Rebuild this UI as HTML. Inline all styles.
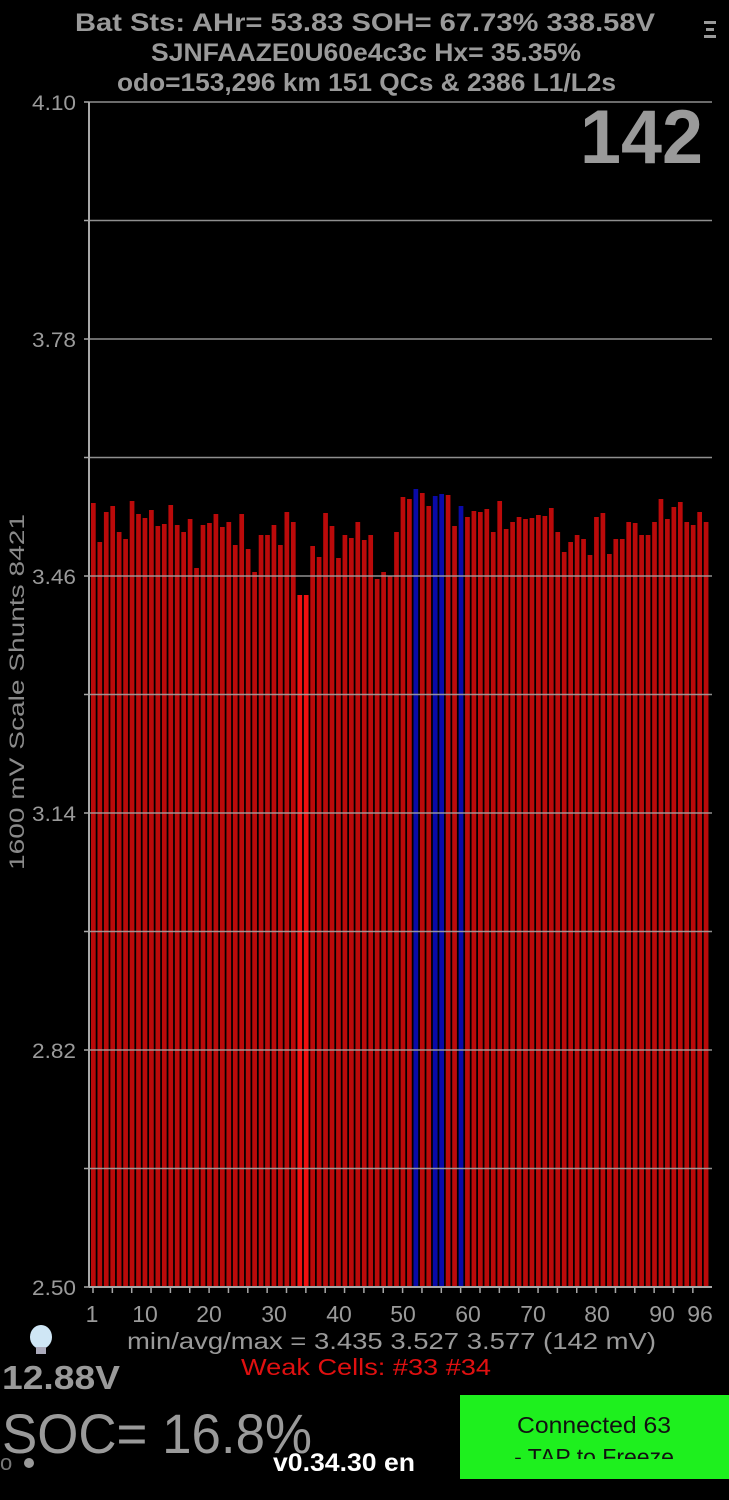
<!DOCTYPE html>
<html><head><meta charset="utf-8"><style>
html,body{margin:0;padding:0;background:#000;}
svg{display:block;}
text{font-family:"Liberation Sans",sans-serif;}
</style></head><body>
<svg id="s" width="729" height="1500" viewBox="0 0 729 1500" xmlns="http://www.w3.org/2000/svg">
<rect width="729" height="1500" fill="#000"/>
<g fill="#9a9a9a" font-weight="bold" text-anchor="start">
<text x="75" y="31" font-size="25" textLength="580" lengthAdjust="spacingAndGlyphs">Bat Sts:  AHr= 53.83  SOH= 67.73%   338.58V</text>
<text x="151" y="61" font-size="25" textLength="430" lengthAdjust="spacingAndGlyphs">SJNFAAZE0U60e4c3c   Hx= 35.35%</text>
<text x="117" y="91" font-size="25" textLength="499" lengthAdjust="spacingAndGlyphs">odo=153,296 km  151 QCs &amp; 2386 L1/L2s</text>
<text x="580" y="163" font-size="76" textLength="123" lengthAdjust="spacingAndGlyphs">142</text>
</g>
<g fill="#9a9a9a"><rect x="704" y="21" width="12" height="3"/><rect x="706" y="28" width="8" height="3"/><rect x="704" y="35" width="12" height="3"/></g>
<g id="bars"></g>
<g id="grid"></g>
<text transform="translate(24,692) rotate(-90)" text-anchor="middle" fill="#8a8a8a" font-size="21" textLength="356" lengthAdjust="spacingAndGlyphs">1600 mV Scale   Shunts 8421</text>
<g fill="#9a9a9a" font-size="23">
<text x="127" y="1349" textLength="529" lengthAdjust="spacingAndGlyphs">min/avg/max = 3.435 3.527 3.577  (142 mV)</text>
</g>
<text x="241" y="1375" fill="#e01010" font-size="23" textLength="250" lengthAdjust="spacingAndGlyphs">Weak Cells:  #33 #34</text>
<text x="2" y="1389" fill="#9a9a9a" font-size="33" font-weight="bold" textLength="118" lengthAdjust="spacingAndGlyphs">12.88V</text>
<text x="2" y="1453" fill="#9a9a9a" font-size="56" textLength="310" lengthAdjust="spacingAndGlyphs">SOC= 16.8%</text>
<text x="0" y="1470" fill="#777" font-size="22">o</text><circle cx="29" cy="1463" r="5" fill="#9a9a9a"/>
<text x="273" y="1471" fill="#fff" font-size="25" font-weight="bold" textLength="142" lengthAdjust="spacingAndGlyphs">v0.34.30 en</text>
<ellipse cx="41" cy="1337" rx="11" ry="12" fill="#cfe6f5"/><rect x="36" y="1347" width="10" height="7" fill="#aab"/>
<rect x="460" y="1395" width="269" height="84" fill="#1ef01e"/>
<text x="594" y="1433" text-anchor="middle" fill="#111" font-size="23" textLength="154" lengthAdjust="spacingAndGlyphs">Connected 63</text>
<svg x="460" y="1395" width="269" height="64" overflow="hidden"><text x="134" y="70" text-anchor="middle" fill="#111" font-size="23">- TAP to Freeze</text></svg>
</svg>
<script>
var t=[503,542,512,506,532,539,501,514,518,510,526,524,505,525,532,519,568,525,523,514,527,522,545,514,549,572,535,535,525,545,512,522,595,595,546,557,513,526,558,535,538,522,540,535,579,572,576,532,497,499,489,493,506,496,494,495,526,506,517,511,512,509,532,501,529,522,517,519,518,515,516,508,532,552,542,535,539,555,517,513,554,539,539,522,523,535,535,522,499,519,507,502,522,525,512,522];
var NS="http://www.w3.org/2000/svg";
function el(p,n,a){var e=document.createElementNS(NS,n);for(var k in a)e.setAttribute(k,a[k]);p.appendChild(e);return e;}
var b=document.getElementById('bars'),g=document.getElementById('grid'),s=document.getElementById('s');
for(var i=0;i<96;i++){var c='#bb0a0a';var n=i+1;if(n==33||n==34)c='#f01010';if(n==51||n==54||n==55||n==58)c='#0a0aa8';
el(b,'rect',{x:(91+i*6.45).toFixed(2),y:t[i],width:4.7,height:1287-t[i],fill:c});}
var labs=['4.10','','3.78','','3.46','','3.14','','2.82','','2.50'];
for(var j=0;j<11;j++){var y=102+j*118.5;
el(g,'line',{x1:89,x2:712,y1:y,y2:y,stroke:'#a8a8a8','stroke-width':1.5,opacity:j==10?1:0.85});
el(g,'line',{x1:84,x2:89,y1:y,y2:y,stroke:'#a8a8a8','stroke-width':1.5});
if(labs[j]){var tx=el(g,'text',{x:76,y:y+8,'text-anchor':'end',fill:'#9a9a9a','font-size':21,textLength:44,lengthAdjust:'spacingAndGlyphs'});tx.textContent=labs[j];}}
el(g,'line',{x1:89,x2:89,y1:102,y2:1287,stroke:'#a8a8a8','stroke-width':2});
el(g,'line',{x1:89,x2:712,y1:1287,y2:1287,stroke:'#a8a8a8','stroke-width':2});
for(var i=0;i<96;i+=3){var x=93+i*6.45;el(g,'line',{x1:x,x2:x,y1:1287,y2:1293,stroke:'#a8a8a8','stroke-width':1.5});}
var xl=[[1,92],[10,145],[20,209],[30,274],[40,339],[50,403],[60,468],[70,533],[80,597],[90,662],[96,700]];
xl.forEach(function(p){var tx=el(g,'text',{x:p[1],y:1322,'text-anchor':'middle',fill:'#9a9a9a','font-size':23});tx.textContent=p[0];});
</script>
</body></html>
